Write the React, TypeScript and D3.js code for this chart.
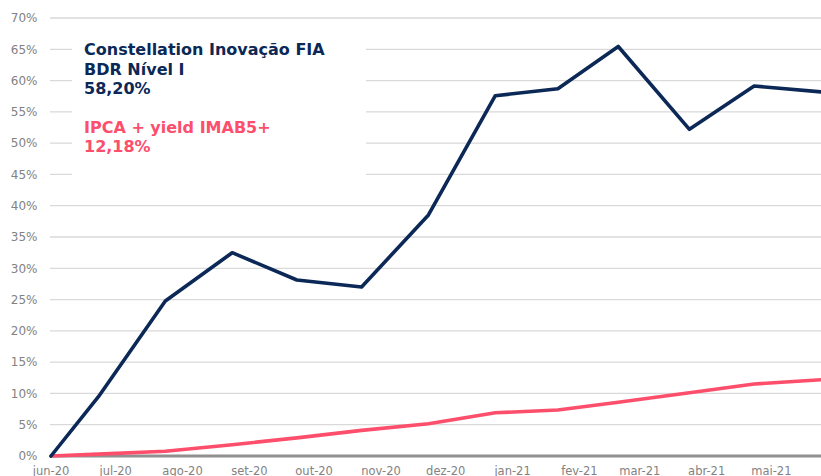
import React from "react";
import * as d3 from "d3";

const dates = [
  "2020-06-08", "2020-06-30", "2020-07-31", "2020-08-31", "2020-09-30", "2020-10-30",
  "2020-11-30", "2020-12-31", "2021-01-29", "2021-02-26", "2021-03-31", "2021-04-30", "2021-05-31",
];
const fundValues = [0, 9.48, 24.77, 32.49, 28.13, 27.01, 38.52, 57.58, 58.7, 65.45, 52.21, 59.13, 58.2];
const benchValues = [0, 0.3, 0.75, 1.8, 2.9, 4.1, 5.15, 6.9, 7.35, 8.6, 10.1, 11.5, 12.18];
const tickDates = [
  "2020-06-08", "2020-07-08", "2020-08-08", "2020-09-08", "2020-10-08", "2020-11-08",
  "2020-12-08", "2021-01-08", "2021-02-08", "2021-03-08", "2021-04-08", "2021-05-08",
];
const tickLabels = ["jun-20", "jul-20", "ago-20", "set-20", "out-20", "nov-20", "dez-20", "jan-21", "fev-21", "mar-21", "abr-21", "mai-21"];
const yTicks = [0, 5, 10, 15, 20, 25, 30, 35, 40, 45, 50, 55, 60, 65, 70];
const fundLabel = ["Constellation Inovação FIA", "BDR Nível I", "58,20%"];
const benchLabel = ["IPCA + yield IMAB5+", "12,18%"];

const W = 821, H = 476;
const parse = d3.utcParse("%Y-%m-%d");
const NAVY = "#0b2856";
const PINK = "#fd4e6c";
const FONT = "'DejaVu Sans', Verdana, sans-serif";

export default function App() {
  const x = d3.scaleUtc()
    .domain([parse(dates[0])!, parse(dates[dates.length - 1])!])
    .range([51, 821]);
  const y = d3.scaleLinear().domain([0, 70]).range([456, 18]);

  const line = d3.line<[Date, number]>()
    .x(d => x(d[0]))
    .y(d => y(d[1]));

  const fundPts: [Date, number][] = dates.map((d, i) => [parse(d)!, fundValues[i]]);
  const benchPts: [Date, number][] = dates.map((d, i) => [parse(d)!, benchValues[i]]);

  return (
    <svg width={W} height={H} style={{ position: "absolute", left: 0, top: 0, background: "#fff" }}>
      <rect x={0} y={0} width={W} height={H} fill="#fff" />
      {yTicks.map(t => (
        <g key={t}>
          {t > 0 && (
            <line x1={50} x2={W} y1={y(t)} y2={y(t)} stroke="#d9d9d9" strokeWidth={1.3} />
          )}
          <text x={37.5} y={y(t)} dy="0.36em" textAnchor="end" fontFamily={FONT} fontSize={12} fill="#828282">
            {t}%
          </text>
        </g>
      ))}
      <rect x={72} y={26} width={294} height={158} fill="#fff" />
      <line x1={50} x2={W} y1={y(0)} y2={y(0)} stroke="#8f8f8f" strokeWidth={3} />
      {tickDates.map((d, i) => (
        <text key={d} x={x(parse(d)!)} y={474.5} textAnchor="middle" fontFamily={FONT} fontSize={11.5} fill="#828282">
          {tickLabels[i]}
        </text>
      ))}
      <path d={line(benchPts)!} fill="none" stroke={PINK} strokeWidth={3.6} strokeLinejoin="round" strokeLinecap="round" />
      <path d={line(fundPts)!} fill="none" stroke={NAVY} strokeWidth={3.6} strokeLinejoin="round" strokeLinecap="round" />
      <g fontFamily={FONT} fontWeight="bold" fontSize={16}>
        {fundLabel.map((s, i) => (
          <text key={s} x={84} y={55 + i * 19.5} fill={NAVY}>{s}</text>
        ))}
        {benchLabel.map((s, i) => (
          <text key={s} x={84} y={133 + i * 19} fill={PINK}>{s}</text>
        ))}
      </g>
    </svg>
  );
}
